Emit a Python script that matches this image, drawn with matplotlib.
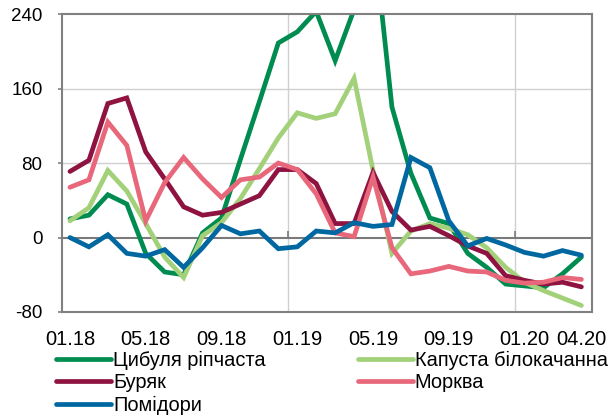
import numpy as np
import matplotlib
matplotlib.use("Agg")
import matplotlib.pyplot as plt

plt.rcParams['font.family'] = ['Liberation Sans', 'DejaVu Sans']
plt.rcParams['axes.unicode_minus'] = False

months = ['01.18', '02.18', '03.18', '04.18', '05.18', '06.18', '07.18', '08.18',
          '09.18', '10.18', '11.18', '12.18', '01.19', '02.19', '03.19', '04.19',
          '05.19', '06.19', '07.19', '08.19', '09.19', '10.19', '11.19', '12.19',
          '01.20', '02.20', '03.20', '04.20']

onion = [20, 24, 46, 36, -17, -37, -40, 5, 21, 84, 146, 209, 221, 243, 190, 245,
         330, 140, 69, 21, 15, -17, -32, -50, -52, -54, -39, -21]
cabbage = [18, 32, 72, 50, 15, -21, -43, 2, 16, 42, 74, 107, 134, 128, 133, 171,
           72, -17, 7, 15, 10, 3, -11, -32, -48, -57, -65, -73]
beet = [71, 83, 144, 150, 92, 63, 33, 24, 27, 36, 45, 73, 73, 58, 15, 15,
        70, 28, 8, 12, 2, -9, -17, -41, -46, -50, -48, -53]
carrot = [54, 62, 124, 99, 18, 59, 86, 63, 43, 62, 65, 80, 73, 47, 5, 1,
          65, -11, -39, -36, -31, -36, -37, -46, -49, -48, -43, -45]
tomato = [0, -10, 3, -17, -20, -13, -32, -11, 13, 4, 7, -12, -10, 7, 5, 16,
          12, 14, 86, 75, 18, -9, -1, -8, -16, -20, -14, -19]

names = ['Цибуля ріпчаста', 'Капуста білокачанна', 'Буряк', 'Морква', 'Помідори']
colors = ['#008C50', '#A3D17A', '#8E1340', '#E8677A', '#0067A1']
series = [onion, cabbage, beet, carrot, tomato]

label_idx = [0, 4, 8, 12, 16, 20, 24, 27]
year_breaks = [11.5, 23.5]

x = np.arange(len(months))

fig = plt.figure(figsize=(6.08, 4.16), dpi=100)
ax = fig.add_axes([0.102, 0.25, 0.872, 0.716])

lines = []
for vals, name, c in zip(series, names, colors):
    ln, = ax.plot(x, vals, color=c, lw=3.4, label=name, solid_capstyle='round',
                  solid_joinstyle='miter')
    lines.append(ln)

ax.set_xlim(-0.42, 27.57)
ax.set_ylim(-80, 240)
ax.set_yticks([-80, 0, 80, 160, 240])
ax.set_xticks([x[i] for i in label_idx])
ax.set_xticklabels([months[i] for i in label_idx])
ax.tick_params(axis='x', length=0, labelsize=14.5, pad=13)
ax.tick_params(axis='y', length=3, color='#808080', width=1.2, labelsize=13.5, pad=11)

for y in [80, 160]:
    ax.axhline(y, color='#D0D0D0', lw=1, zorder=0)
for xb in year_breaks:
    ax.axvline(xb, color='#D0D0D0', lw=1, zorder=0)
ax.axhline(0, color='#7A7A7A', lw=1.5, zorder=1)

# small ticks on the zero line at year boundaries
sec = ax.secondary_xaxis(0.25)
sec.set_xticks(year_breaks)
sec.set_xticklabels(['', ''])
sec.tick_params(direction='in', length=5, color='#7A7A7A', width=1.2)
sec.spines['bottom'].set_visible(False)

for s in ax.spines.values():
    s.set_color('#808080')
    s.set_linewidth(1.5)

order = [0, 2, 4, 1, 3]
fig.legend([lines[i] for i in order], [names[i] for i in order],
           loc='upper left', bbox_to_anchor=(0.092, 0.157), ncol=2, frameon=False,
           fontsize=14.4, handlelength=2.75, handletextpad=0.1, columnspacing=4.6,
           labelspacing=0.17, borderaxespad=0, borderpad=0)

fig.savefig('out.png', dpi=100)
